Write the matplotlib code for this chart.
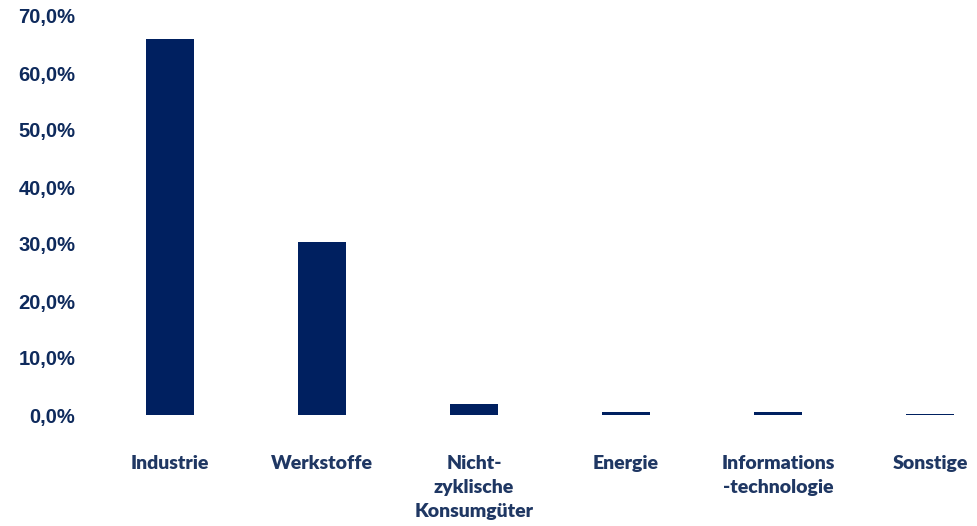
import numpy as np
import matplotlib
matplotlib.use("Agg")
import matplotlib.pyplot as plt
from matplotlib.ticker import FuncFormatter

categories = ["Industrie", "Werkstoffe", "Nicht-\nzyklische\nKonsumgüter",
              "Energie", "Informations\n-technologie", "Sonstige"]
shares = [66.0, 30.4, 1.9, 0.5, 0.5, 0.2]
y_ticks = [0, 10, 20, 30, 40, 50, 60, 70]

bar_color = "#002060"
ytext_color = "#0e2a5c"
xtext_color = "#1f3763"

fig = plt.figure(figsize=(9.78, 5.26), dpi=100)
# axes placed in pixel terms: left 94px, baseline at y=415px, top at y=16px
ax = fig.add_axes([94 / 978, (526 - 415) / 526, 884 / 978, 399 / 526])

x = np.arange(len(categories))
ax.bar(x, shares, width=0.31, color=bar_color)

ax.set_xlim(-0.5, 884 / 152 - 0.5)
ax.set_ylim(0, 70)
ax.set_yticks(y_ticks)
ax.yaxis.set_major_formatter(FuncFormatter(lambda v, p: f"{v:.1f}%".replace(".", ",")))
for lbl in ax.get_yticklabels():
    lbl.set_fontfamily("Liberation Sans")
    lbl.set_fontweight("bold")
    lbl.set_fontsize(14.5)
    lbl.set_color(ytext_color)
ax.tick_params(axis="y", length=0, pad=13.5)

ax.set_xticks(x)
ax.set_xticklabels(categories, fontfamily="Lato", fontweight="heavy", fontsize=14,
                   color=xtext_color, multialignment="center", linespacing=1.5)
ax.tick_params(axis="x", length=0, pad=29)

for s in ax.spines.values():
    s.set_visible(False)

fig.savefig("out.png", dpi=100)
